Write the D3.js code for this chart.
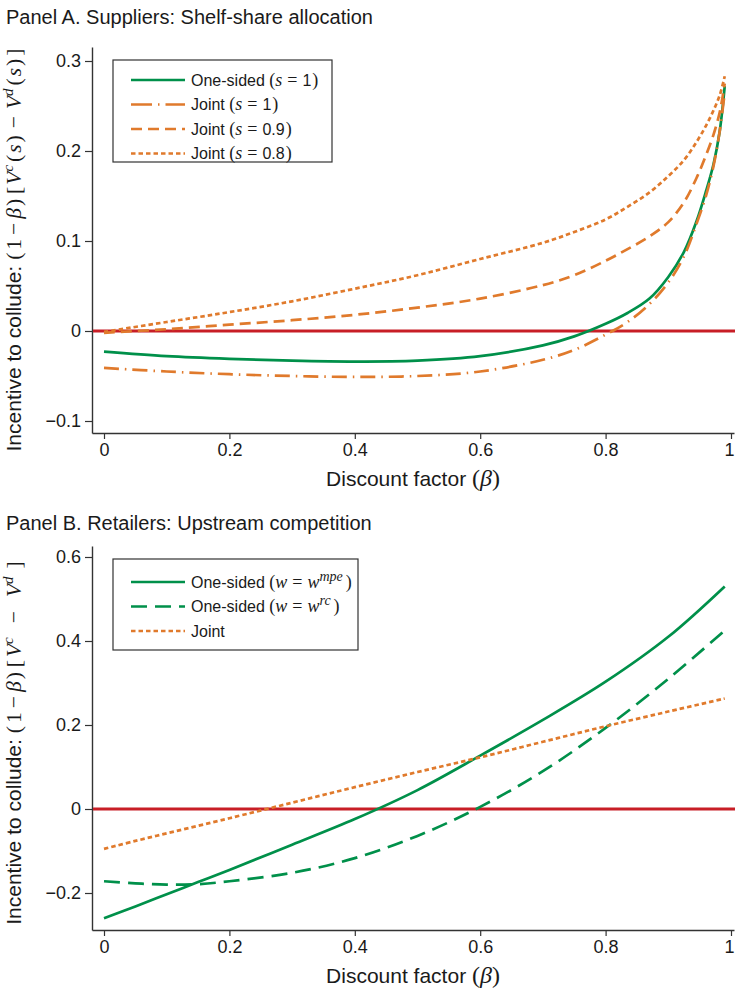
<!DOCTYPE html>
<html>
<head>
<meta charset="utf-8">
<script src="https://cdn.jsdelivr.net/npm/d3@7"></script>
<style>
  html, body { margin: 0; padding: 0; background: #fff; }
  svg { display: block; }
  .sans { font-family: "Liberation Sans", Arial, Helvetica, sans-serif; }
  .serif { font-family: "Liberation Serif", "Times New Roman", serif; }
</style>
</head>
<body>
<svg id="chart" width="735" height="988"></svg>
<script>
// ---------------- DATA ----------------
// Panel A: Suppliers, shelf-share allocation
const betaA      = [0, 0.1, 0.2, 0.3, 0.4, 0.5, 0.6, 0.7, 0.75, 0.8, 0.835, 0.87, 0.9, 0.925, 0.945, 0.96, 0.972, 0.982, 0.99];
const oneSidedS1 = [-0.023, -0.028, -0.031, -0.033, -0.034, -0.033, -0.028, -0.016, -0.006, 0.008, 0.020, 0.036, 0.060, 0.088, 0.122, 0.155, 0.185, 0.222, 0.272];
const jointS1    = [-0.041, -0.045, -0.048, -0.050, -0.051, -0.050, -0.045, -0.032, -0.021, -0.004, 0.010, 0.030, 0.054, 0.083, 0.119, 0.150, 0.183, 0.222, 0.265];
const jointS09   = [-0.002, 0.002, 0.007, 0.012, 0.018, 0.026, 0.036, 0.051, 0.062, 0.078, 0.091, 0.105, 0.121, 0.143, 0.170, 0.195, 0.218, 0.243, 0.275];
const jointS08   = [-0.001, 0.010, 0.021, 0.033, 0.047, 0.062, 0.080, 0.098, 0.110, 0.124, 0.138, 0.154, 0.172, 0.190, 0.210, 0.228, 0.245, 0.262, 0.283];
const yTicksA = [-0.1, 0, 0.1, 0.2, 0.3];

// Panel B: Retailers, upstream competition
const betaB       = [0, 0.05, 0.1, 0.15, 0.2, 0.3, 0.4, 0.5, 0.6, 0.7, 0.8, 0.9, 0.99];
const oneSidedMpe = [-0.260, -0.232, -0.203, -0.174, -0.145, -0.085, -0.024, 0.045, 0.127, 0.212, 0.303, 0.410, 0.530];
const oneSidedRc  = [-0.172, -0.177, -0.180, -0.179, -0.172, -0.152, -0.117, -0.064, 0.005, 0.090, 0.193, 0.310, 0.425];
const jointB      = [-0.095, -0.076, -0.058, -0.040, -0.022, 0.015, 0.052, 0.088, 0.123, 0.160, 0.197, 0.232, 0.263];
const yTicksB = [-0.2, 0, 0.2, 0.4, 0.6];

const xTicks = [0, 0.2, 0.4, 0.6, 0.8, 1];

// ---------------- STYLE ----------------
const GREEN = "#00904a";
const ORANGE = "#e07a2c";
const RED = "#c81e26";
const AXIS = "#333";
const TXT = "#1a1a1a";

const svg = d3.select("#chart");

function fmt(d) { return d === 0 ? "0" : (d === 1 ? "1" : d3.format(".1f")(d)); }

// append a run of tspans: [text, opts]
function runs(t, list) {
  list.forEach(([str, o]) => {
    o = o || {};
    const sp = t.append("tspan").text(str);
    if (o.serif) sp.attr("class", "serif");
    if (o.it) sp.attr("font-style", "italic");
    if (o.size) sp.attr("font-size", o.size);
    if (o.dx) sp.attr("dx", o.dx);
    if (o.dy) sp.attr("dy", o.dy);
  });
}

function panel(cfg) {
  const g = svg.append("g");
  const x = d3.scaleLinear().domain(cfg.xDomain).range([92, 734]);
  const y = d3.scaleLinear().domain(cfg.yDomain).range([cfg.bottom, cfg.top]);

  // title
  g.append("text").attr("class", "sans").attr("x", 6).attr("y", cfg.titleY)
    .attr("font-size", 20).attr("fill", TXT).text(cfg.title);

  // axes
  const ya = g.append("g").attr("transform", "translate(92,0)")
    .call(d3.axisLeft(y).tickValues(cfg.yTicks).tickFormat(fmt).tickSize(7).tickSizeOuter(0).tickPadding(4));
  const xa = g.append("g").attr("transform", `translate(0,${cfg.bottom})`)
    .call(d3.axisBottom(x).tickValues(xTicks).tickFormat(fmt).tickSize(6).tickSizeOuter(0).tickPadding(4));
  [ya, xa].forEach(a => {
    a.selectAll("path.domain").attr("stroke", AXIS).attr("stroke-width", 1.4);
    a.selectAll(".tick line").attr("stroke", AXIS).attr("stroke-width", 1.2);
    a.selectAll(".tick text").attr("class", "sans").attr("font-size", 18).attr("fill", TXT);
  });
  xa.selectAll(".tick text").filter(d => d === 1).attr("dx", -2);

  // zero line
  g.append("line").attr("x1", 93).attr("x2", 735).attr("y1", y(0)).attr("y2", y(0))
    .attr("stroke", RED).attr("stroke-width", 3);

  const line = d3.line().curve(d3.curveCatmullRom.alpha(0.5)).x(d => x(d[0])).y(d => y(d[1]));
  cfg.series.forEach(s => {
    g.append("path").datum(cfg.beta.map((b, i) => [b, s.values[i]]))
      .attr("d", line).attr("fill", "none").attr("stroke", s.color)
      .attr("stroke-width", 2.7).attr("stroke-dasharray", s.dash || null);
  });

  // legend
  const L = cfg.legend;
  g.append("rect").attr("x", L.x).attr("y", L.y).attr("width", L.w).attr("height", L.h)
    .attr("fill", "#fff").attr("stroke", AXIS).attr("stroke-width", 1.2);
  cfg.series.forEach((s, i) => {
    const cy = L.y + L.first + i * L.step;
    g.append("line").attr("x1", L.x + 18).attr("x2", L.x + 72).attr("y1", cy).attr("y2", cy)
      .attr("stroke", s.color).attr("stroke-width", 2.7).attr("stroke-dasharray", s.legendDash || s.dash || null);
    const t = g.append("text").attr("class", "sans").attr("x", L.x + 78).attr("y", cy + 5.5)
      .attr("font-size", 16).attr("fill", TXT);
    runs(t, s.label);
  });

  // x title
  const xt = g.append("text").attr("class", "sans").attr("x", 413).attr("y", cfg.bottom + 53)
    .attr("text-anchor", "middle").attr("font-size", 21).attr("fill", TXT);
  runs(xt, [["Discount factor "], ["(", { serif: 1, size: 24 }], ["β", { serif: 1, it: 1, size: 24 }], [")", { serif: 1, size: 24 }]]);

  // y title
  const yt = g.append("text").attr("class", "sans")
    .attr("transform", `translate(21,${cfg.yTitleMid}) rotate(-90)`)
    .attr("text-anchor", "middle").attr("font-size", 21).attr("fill", TXT);
  runs(yt, cfg.yTitle);
}

const M = { serif: 1, size: 21.5 };
const MI = { serif: 1, it: 1, size: 21.5 };
function m(dx) { return Object.assign({}, M, { dx }); }
function mi(dx, dy) { return Object.assign({}, MI, { dx, dy }); }
const SUP = (dy) => ({ serif: 1, it: 1, size: 15, dy });

const yTitleA = [
  ["Incentive to collude:"],
  ["(", m(6)], ["1", m(3)], ["−", m(4)], ["β", mi(4)], [")", m(2)], ["[", m(5)],
  ["V", mi(2)], ["c", SUP(-8)], ["(", Object.assign(m(3), { dy: 8 })], ["s", mi(2)], [")", m(2)],
  ["−", m(7)], ["V", mi(7)], ["d", SUP(-8)], ["(", Object.assign(m(3), { dy: 8 })], ["s", mi(2)], [")", m(2)], ["]", m(3)]
];
const yTitleB = [
  ["Incentive to collude:"],
  ["(", m(6)], ["1", m(3)], ["−", m(4)], ["β", mi(4)], [")", m(2)], ["[", m(5)],
  ["V", mi(3)], ["c", SUP(-8)], ["−", Object.assign(m(14), { dy: 8 })], ["V", mi(14)], ["d", SUP(-8)],
  ["]", Object.assign(m(8), { dy: 8 })]
];

const LS = { serif: 1, size: 18 };
const LSI = { serif: 1, it: 1, size: 18 };
function sLabel(name, val) {
  return [[name + " "], ["(", LS], ["s", LSI], ["=", Object.assign({}, LS, { dx: 5 })], [val, { dx: 5 }], [")", Object.assign({}, LS, { dx: 1 })]];
}
function wLabel(sup) {
  return [["One-sided "], ["(", LS], ["w", LSI], ["=", Object.assign({}, LS, { dx: 5 })], ["w", Object.assign({}, LSI, { dx: 5 })],
    [sup, { serif: 1, it: 1, size: 14, dy: -7 }], [")", Object.assign({}, LS, { dx: 3, dy: 7 })]];
}

panel({
  title: "Panel A. Suppliers: Shelf-share allocation", titleY: 24,
  top: 47, bottom: 433,
  xDomain: [-12 / 627, 1 + 3 / 627],
  yDomain: [-0.1 - 12 / 900, 0.3 + 14 / 900],
  yTicks: yTicksA, beta: betaA, yTitleMid: 250,
  yTitle: yTitleA,
  legend: { x: 113, y: 60, w: 219, h: 102, first: 20, step: 24.5 },
  series: [
    { values: oneSidedS1, color: GREEN, label: sLabel("One-sided", "1") },
    { values: jointS1, color: ORANGE, dash: "15,6,1.5,6", legendDash: "21,6,1.5,6", label: sLabel("Joint", "1") },
    { values: jointS09, color: ORANGE, dash: "11,6", label: sLabel("Joint", "0.9") },
    { values: jointS08, color: ORANGE, dash: "4.5,3", label: sLabel("Joint", "0.8") }
  ]
});

panel({
  title: "Panel B. Retailers: Upstream competition", titleY: 530,
  top: 546, bottom: 930,
  xDomain: [-12 / 627, 1 + 3 / 627],
  yDomain: [-121 / 420, 0.6 + 11 / 420],
  yTicks: yTicksB, beta: betaB, yTitleMid: 743,
  yTitle: yTitleB,
  legend: { x: 113, y: 559, w: 245, h: 91, first: 23, step: 24.5 },
  series: [
    { values: oneSidedMpe, color: GREEN, label: wLabel("mpe") },
    { values: oneSidedRc, color: GREEN, dash: "16,8", label: wLabel("rc") },
    { values: jointB, color: ORANGE, dash: "4.5,3", label: [["Joint"]] }
  ]
});
</script>
</body>
</html>
